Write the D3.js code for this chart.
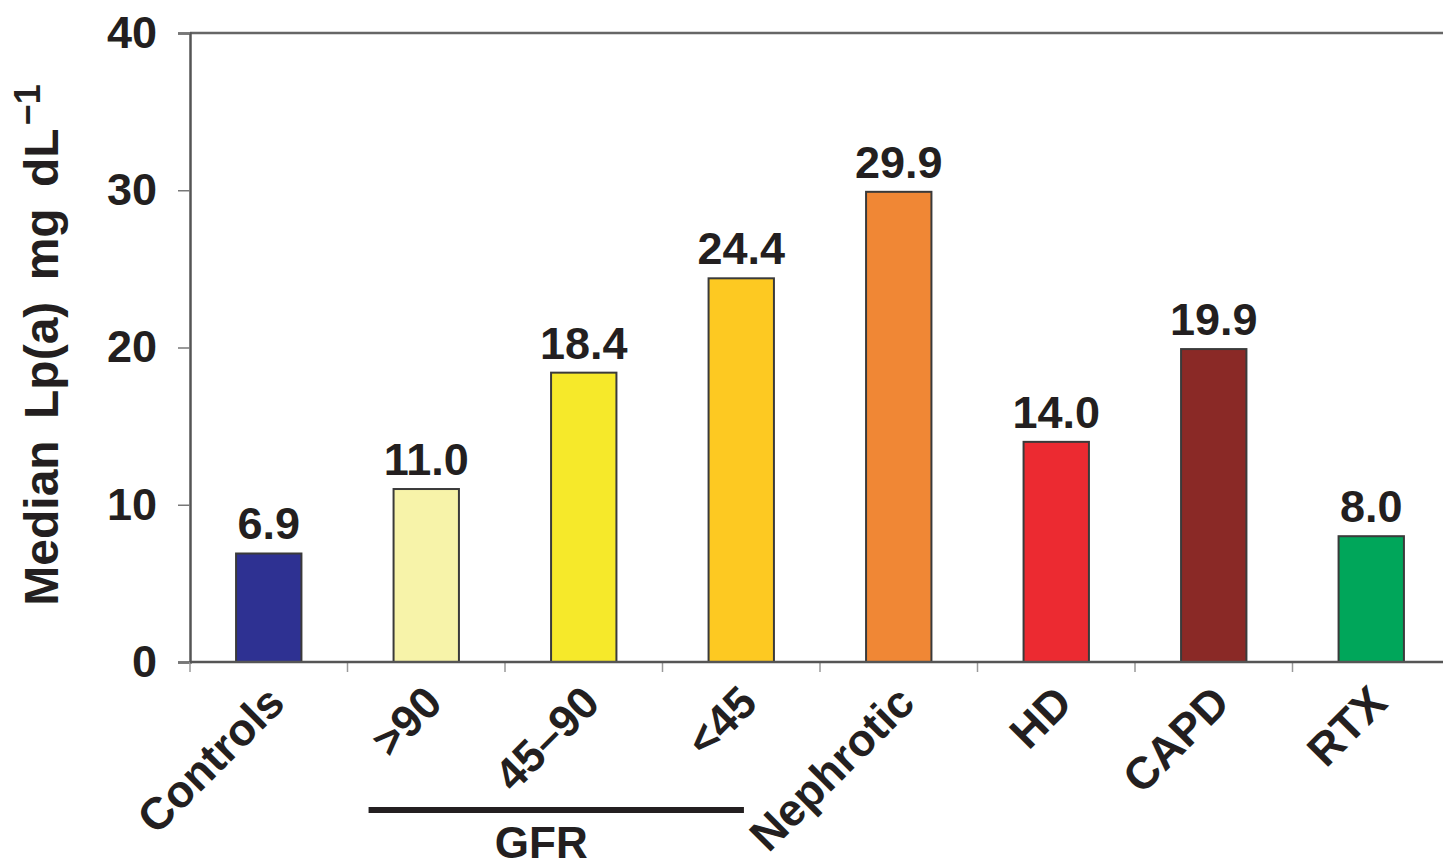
<!DOCTYPE html>
<html>
<head>
<meta charset="utf-8">
<script src="https://cdn.jsdelivr.net/npm/d3@7"></script>
<style>
  html, body { margin: 0; padding: 0; background: #fff; overflow: hidden; }
  svg { display: block; font-family: "Liberation Sans", Arial, sans-serif; font-weight: bold; }
</style>
</head>
<body>
<svg id="chart" width="1443" height="868"></svg>
<script>
// Median Lp(a) by patient group
const categories = ["Controls", ">90", "45\u201390", "<45", "Nephrotic", "HD", "CAPD", "RTX"];
const values = [6.9, 11.0, 18.4, 24.4, 29.9, 14.0, 19.9, 8.0];
const barColors = ["#2e3192", "#f7f3a9", "#f6e92a", "#fdc922", "#f08735", "#ec2a31", "#8a2926", "#00a65a"];
const yTicks = [0, 10, 20, 30, 40];
const gfrGroup = [">90", "45\u201390", "<45"];

const W = 1443, H = 868;
const margin = { left: 190, top: 33, bottom: 206 };
const plotRight = 1450;
const svg = d3.select("#chart");
const ink = "#231f20";

const x = d3.scaleBand().domain(categories).range([margin.left, plotRight]).paddingInner(0.585).paddingOuter(0.2925);
const y = d3.scaleLinear().domain([0, 40]).range([H - margin.bottom, margin.top]);

// frame: top border across the plot
svg.append("line")
  .attr("x1", margin.left).attr("x2", W)
  .attr("y1", y(40)).attr("y2", y(40))
  .attr("stroke", "#666").attr("stroke-width", 2.5);

// y axis
const yAxis = svg.append("g")
  .attr("transform", `translate(${margin.left},0)`)
  .call(d3.axisLeft(y).tickValues(yTicks).tickSize(12).tickPadding(21).tickFormat(d3.format("d")));
yAxis.select(".domain").attr("stroke", "#555").attr("stroke-width", 2.5);
yAxis.selectAll(".tick line").attr("stroke", "#777").attr("stroke-width", 1.5);
yAxis.selectAll(".tick text")
  .attr("font-size", 45).attr("font-weight", "bold").attr("fill", ink)
  .attr("font-family", "'Liberation Sans', Arial, sans-serif");

// x tick marks at band boundaries
svg.append("g").selectAll("line")
  .data(categories)
  .join("line")
  .attr("x1", d => x(d) - x.step() * x.paddingOuter())
  .attr("x2", d => x(d) - x.step() * x.paddingOuter())
  .attr("y1", y(0)).attr("y2", y(0) + 10)
  .attr("stroke", "#999").attr("stroke-width", 1.5);

// bars
svg.append("g").selectAll("rect")
  .data(categories)
  .join("rect")
  .attr("x", d => x(d))
  .attr("y", (d, i) => y(values[i]))
  .attr("width", x.bandwidth())
  .attr("height", (d, i) => y(0) - y(values[i]))
  .attr("fill", (d, i) => barColors[i])
  .attr("stroke", "#3a3a3a").attr("stroke-width", 2);

// baseline
svg.append("line")
  .attr("x1", margin.left).attr("x2", W)
  .attr("y1", y(0)).attr("y2", y(0))
  .attr("stroke", "#555").attr("stroke-width", 2.5);

// value labels
svg.append("g").selectAll("text")
  .data(categories)
  .join("text")
  .attr("x", d => x(d) + x.bandwidth() / 2)
  .attr("y", (d, i) => y(values[i]) - 14)
  .attr("text-anchor", "middle")
  .attr("font-size", 45).attr("fill", ink)
  .text((d, i) => values[i].toFixed(1));

// rotated category labels
svg.append("g").selectAll("text")
  .data(categories)
  .join("text")
  .attr("transform", d => `translate(${x(d) + x.bandwidth() / 2 - 4},${y(0) + 21}) rotate(-45)`)
  .attr("text-anchor", "end")
  .attr("dy", "0.7em")
  .attr("font-size", 45).attr("fill", ink)
  .text(d => d);

// GFR bracket
const gx0 = x(gfrGroup[0]) - 25;
const gx1 = x(gfrGroup[gfrGroup.length - 1]) + x.bandwidth() - 30;
svg.append("line")
  .attr("x1", gx0).attr("x2", gx1)
  .attr("y1", 810).attr("y2", 810)
  .attr("stroke", ink).attr("stroke-width", 6);
svg.append("text")
  .attr("x", (gx0 + gx1) / 2 - 15)
  .attr("y", 858)
  .attr("text-anchor", "middle")
  .attr("font-size", 44).attr("fill", ink)
  .text("GFR");

// y axis title
const yTitle = svg.append("text")
  .attr("transform", "translate(58,345) rotate(-90)")
  .attr("text-anchor", "middle")
  .attr("font-size", 48).attr("fill", ink)
  .attr("word-spacing", 8);
yTitle.append("tspan").text("Median Lp(a) mg dL");
yTitle.append("tspan").attr("font-size", 36).attr("dx", 3).attr("dy", -18).text("\u22121");
</script>
</body>
</html>
